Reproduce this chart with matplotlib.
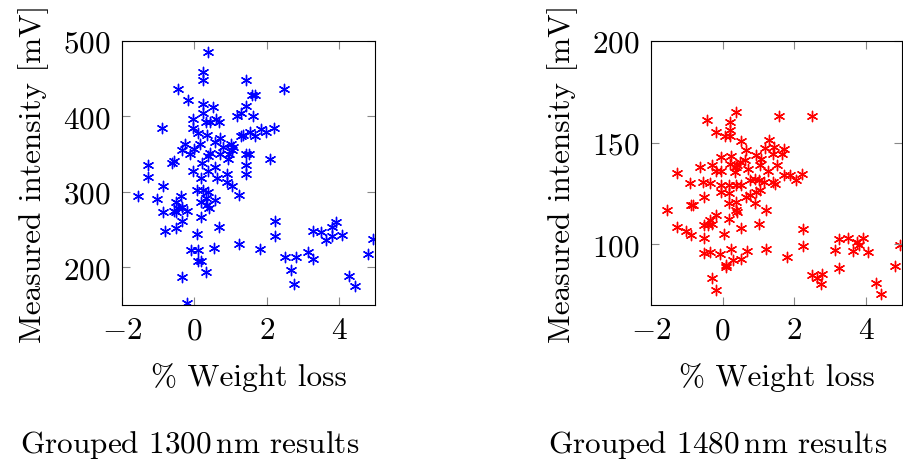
import matplotlib
matplotlib.use("Agg")
import matplotlib.pyplot as plt

plt.rcParams["font.family"] = "serif"
plt.rcParams["font.serif"] = ["cmr10", "DejaVu Serif"]
plt.rcParams["mathtext.fontset"] = "cm"
plt.rcParams["axes.formatter.use_mathtext"] = True

# weight loss [%] and intensity [mV]
x_1300 = [0.37, 0.23, 0.23, -0.44, 1.43, 2.48, -0.17, 0.23, 0.52, 1.44, 1.60, 1.69,
          1.19, 1.30, 1.62, -0.03, 0.24, 0.33, 0.44, 0.60, 0.69, -0.03, -0.90, 0.10,
          0.36, 0.72, 1.29, 1.34, 1.53, 1.69, 1.83, 1.97, 2.20, -0.27, -0.34, -0.13,
          0.00, 0.15, 0.57, 0.80, 1.02, 1.07, 1.05, 0.72, 0.95, 0.42, 0.38, 1.44,
          1.51, 2.09, 0.93, -0.55, -0.62, -1.27, 0.21, 0.56, -0.04, 0.38, 1.44, 1.42,
          0.91, 0.19, 0.63, -1.27, -0.87, 0.91, 1.05, 1.23, 0.06, 0.24, 0.37, -1.55,
          -1.02, -0.36, -0.50, 0.58, 0.17, 0.33, -0.34, -0.20, -0.44, 0.40, 0.35, -0.55,
          -0.50, -0.87, -0.34, 0.17, -0.50, -0.82, 0.06, 0.67, 2.23, 2.23, 1.23, 1.81,
          0.54, -0.09, 0.11, 0.17, 0.11, 0.33, -0.34, -0.20, 2.51, 2.81, 2.67, 2.76,
          3.13, 3.27, 3.27, 3.50, 3.64, 3.80, 3.82, 3.92, 4.07, 4.29, 4.44, 4.80, 4.95]
y_1300 = [485, 459, 448, 437, 448, 437, 422, 416, 413, 414, 428, 429,
          400, 405, 400, 396, 404, 393, 392, 396, 392, 385, 385, 378,
          375, 371, 374, 375, 379, 374, 383, 380, 384, 364, 355, 350,
          357, 363, 366, 360, 363, 359, 355, 350, 350, 351, 347, 350,
          350, 344, 343, 341, 338, 335, 338, 333, 328, 328, 335, 324,
          324, 318, 318, 320, 308, 313, 308, 296, 302, 302, 300, 294,
          291, 295, 286, 289, 287, 292, 280, 275, 278, 278, 282, 275,
          273, 273, 262, 267, 252, 248, 244, 254, 262, 241, 231, 224,
          226, 223, 223, 209, 208, 194, 187, 152, 214, 214, 196, 178,
          220, 211, 248, 247, 236, 242, 253, 260, 243, 189, 175, 218, 237]

x_1480 = [0.36, -0.43, 0.21, 0.21, 1.56, 2.49, -0.18, 0.06, 0.21, 0.52, 1.30, 1.19,
          1.44, 1.41, 1.70, 1.66, 0.66, 0.93, 1.07, -0.06, 0.22, 0.19, 0.40, 0.49,
          0.61, -0.64, -0.29, -0.18, -0.06, 0.33, 0.36, 0.70, 1.05, 1.27, 1.50, 1.72,
          1.88, 2.04, 2.21, -1.28, -0.90, -0.54, -0.36, -0.04, 0.18, 0.36, 0.52, 0.75,
          0.89, 1.01, 1.16, 1.47, 1.39, -0.06, 0.18, 0.93, 1.05, -0.52, 0.66, 0.75,
          -0.87, -0.82, -1.56, 0.17, 0.38, 0.36, 0.40, 0.91, 1.21, -0.18, -0.34, -0.41,
          -0.52, -0.31, 0.17, 1.02, -1.26, -1.02, -0.87, -0.52, 0.03, 0.52, 2.23, 2.23,
          -0.52, -0.34, -0.08, 0.22, 0.67, 1.21, 1.78, 0.08, 0.10, 0.29, 0.52, -0.31,
          -0.20, 2.50, 2.64, 2.78, 2.73, 3.13, 3.24, 3.50, 3.24, 3.63, 3.75, 3.80,
          3.90, 4.05, 4.28, 4.41, 4.81, 4.95]
y_1480 = [164.9, 161.1, 160.0, 156.4, 162.9, 162.9, 155.0, 153.1, 153.4, 151.0, 151.3, 147.2,
          148.0, 144.4, 146.9, 144.4, 146.1, 144.0, 142.0, 142.8, 143.6, 139.5, 139.0, 140.4,
          141.2, 138.2, 139.0, 135.8, 135.8, 135.5, 137.9, 137.1, 138.7, 135.8, 138.7, 134.2,
          133.8, 131.4, 134.3, 135.0, 130.1, 130.6, 130.1, 128.9, 129.2, 129.2, 128.9, 131.4,
          132.2, 131.4, 130.6, 129.7, 130.6, 125.7, 125.3, 125.7, 126.5, 123.2, 123.2, 124.0,
          119.4, 119.1, 117.0, 120.0, 120.8, 116.7, 115.8, 120.3, 117.0, 114.2, 111.8, 109.3,
          109.3, 110.1, 112.3, 110.1, 108.2, 106.4, 104.4, 103.1, 105.2, 108.0, 107.2, 99.2,
          95.4, 96.2, 95.3, 97.5, 96.6, 97.4, 93.5, 89.7, 88.9, 92.2, 92.5, 83.5,
          77.5, 84.8, 83.5, 85.1, 80.2, 97.1, 102.5, 103.1, 88.4, 96.7, 101.1, 99.5,
          103.1, 96.2, 81.0, 75.3, 89.2, 99.5]

FS = 22.5
STAR = (6, 2, 0)   # pgfplots-style asterisk


def panel(ax, xs, ys, color, ylim, yticks):
    ax.scatter(xs, ys, marker=STAR, s=55, color=color, linewidths=1.0)
    ax.set_xlim(-2, 5)
    ax.set_ylim(*ylim)
    ax.set_xticks([-2, 0, 2, 4])
    ax.set_yticks(yticks)
    ax.tick_params(direction="in", length=6, width=0.8, color="#888888",
                   top=True, right=True, labelsize=FS, pad=8)
    for sp in ax.spines.values():
        sp.set_linewidth(0.8)
    ax.set_xlabel("% Weight loss", fontsize=FS, labelpad=13)
    ax.set_ylabel("Measured intensity [mV]", fontsize=FS, labelpad=10)


fig = plt.figure(figsize=(9.04, 4.64), dpi=100)
axL = fig.add_axes([0.135, 0.3405, 0.280, 0.569])
axR = fig.add_axes([0.720, 0.3405, 0.278, 0.569])
panel(axL, x_1300, y_1300, "blue", (150, 500), [200, 300, 400, 500])
panel(axR, x_1480, y_1480, "red", (70, 200), [100, 150, 200])

fig.text(190 / 904, 1 - 445 / 464, "Grouped 1300$\\,$nm results", fontsize=FS,
         ha="center", va="center")
fig.text(718 / 904, 1 - 445 / 464, "Grouped 1480$\\,$nm results", fontsize=FS,
         ha="center", va="center")

fig.savefig("out.png", dpi=100, facecolor="white")
